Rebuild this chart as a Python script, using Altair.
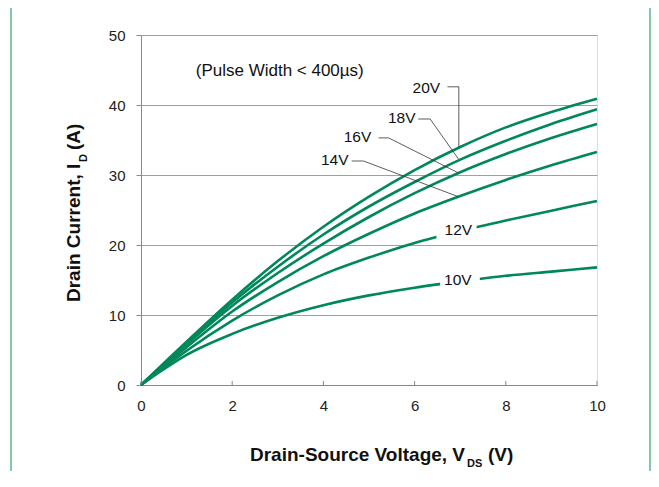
import altair as alt
import pandas as pd

# ---- data ----
VDS = [0, 0.5, 1, 2, 3, 4, 5, 6, 7, 8, 9, 10]
I_20V = [0, 3.1, 6.2, 12.2, 17.7, 22.6, 26.9, 30.7, 34.0, 36.8, 39.0, 40.9]
I_18V = [0, 3.0, 6.0, 11.8, 16.9, 21.5, 25.5, 29.0, 32.2, 34.9, 37.3, 39.4]
I_16V = [0, 2.9, 5.8, 11.3, 16.0, 20.2, 24.0, 27.4, 30.4, 33.0, 35.3, 37.3]
I_14V = [0, 2.75, 5.4, 10.5, 14.7, 18.4, 21.6, 24.5, 27.0, 29.3, 31.4, 33.3]
I_12V = [0, 2.5, 4.9, 9.2, 12.8, 15.8, 18.2, 20.3, 22.0, 23.5, 24.9, 26.3]
I_10V = [0, 2.25, 4.3, 7.3, 9.6, 11.4, 12.8, 13.9, 14.8, 15.6, 16.2, 16.8]
GATES = ["20V", "18V", "16V", "14V", "12V", "10V"]
SERIES = [I_20V, I_18V, I_16V, I_14V, I_12V, I_10V]

X_TICKS = [0, 2, 4, 6, 8, 10]
Y_TICKS = [0, 10, 20, 30, 40, 50]

# labels with leader lines (right-aligned text)
LEAD_LABELS = ["20V", "18V", "16V", "14V"]
LEAD_TEXT_X = [6.56, 6.02, 5.05, 4.55]
LEAD_TEXT_Y = [42.4, 38.2, 35.5, 32.2]
LEAD_X = [[6.72, 6.97, 6.97], [6.08, 6.34, 6.96], [5.21, 5.43, 6.96], [4.62, 4.88, 6.96]]
LEAD_Y = [[42.6, 42.6, 34.0], [38.0, 38.0, 32.3], [35.3, 35.3, 30.3], [32.0, 32.0, 26.9]]

# inline labels (line is interrupted behind them)
INLINE_LABELS = ["12V", "10V"]
INLINE_X = [6.96, 6.95]
INLINE_Y = [22.1, 14.95]
GAP_X1 = [6.48, 6.56]
GAP_X2 = [7.36, 7.43]
GAP_Y1 = [20.3, 13.3]
GAP_Y2 = [23.8, 16.6]

NOTE = "(Pulse Width < 400µs)"
NOTE_X = [1.2]
NOTE_Y = [44.9]

GREEN = "#00875a"
W, H = 456, 350

curves = pd.DataFrame(
    [{"V": v, "I": i, "gate": g} for g, s in zip(GATES, SERIES) for v, i in zip(VDS, s)]
)
leaders = pd.DataFrame(
    [{"V": x, "I": y, "lab": l, "k": k}
     for l, xs, ys in zip(LEAD_LABELS, LEAD_X, LEAD_Y)
     for k, (x, y) in enumerate(zip(xs, ys))]
)
lead_txt = pd.DataFrame({"V": LEAD_TEXT_X, "I": LEAD_TEXT_Y, "lab": LEAD_LABELS})
inl_txt = pd.DataFrame({"V": INLINE_X, "I": INLINE_Y, "lab": INLINE_LABELS})
gaps = pd.DataFrame({"V": GAP_X1, "V2": GAP_X2, "I": GAP_Y1, "I2": GAP_Y2})
note = pd.DataFrame({"V": NOTE_X, "I": NOTE_Y, "lab": [NOTE]})
ticks = pd.DataFrame({"V": X_TICKS})

LABEL_FONT = "Liberation Sans"
xscale = alt.Scale(domain=[0, 10], nice=False, zero=False)
yscale = alt.Scale(domain=[0, 50], nice=False)
xaxis = alt.Axis(values=X_TICKS, grid=False, tickSize=0, labelPadding=13, title=None,
                 labelFlush=False, domainColor="#888", labelFont=LABEL_FONT,
                 labelFontSize=15, labelColor="#222")
yaxis = alt.Axis(values=Y_TICKS, grid=True, gridColor="#a0a0a0", tickSize=5, tickColor="#888",
                 labelPadding=11, title=None, domainColor="#888", labelFlush=False,
                 labelFont=LABEL_FONT, labelFontSize=15, labelColor="#222")


def X(f="V"):
    return alt.X(f, type="quantitative", scale=xscale, axis=xaxis)


def Y(f="I"):
    return alt.Y(f, type="quantitative", scale=yscale, axis=yaxis)


lines = alt.Chart(curves).mark_line(interpolate="monotone", strokeWidth=2.6, color=GREEN).encode(
    x=X(), y=Y(), detail="gate:N")
gap_rects = alt.Chart(gaps).mark_rect(color="white").encode(
    x=X(), x2="V2", y=Y(), y2="I2")
lead_lines = alt.Chart(leaders).mark_line(color="#333", strokeWidth=0.8).encode(
    x=X(), y=Y(), detail="lab:N", order="k:Q")
lead_labels = alt.Chart(lead_txt).mark_text(
    align="right", baseline="middle", font=LABEL_FONT, fontSize=15.5, color="#111").encode(
    x=X(), y=Y(), text="lab:N")
inl_labels = alt.Chart(inl_txt).mark_text(
    align="center", baseline="middle", font=LABEL_FONT, fontSize=15.5, color="#111").encode(
    x=X(), y=Y(), text="lab:N")
note_text = alt.Chart(note).mark_text(
    align="left", baseline="middle", font=LABEL_FONT, fontSize=17, color="#111").encode(
    x=X(), y=Y(), text="lab:N")
inner_ticks = alt.Chart(ticks).mark_rule(color="#888", strokeWidth=1).encode(
    x=X(), y=alt.value(H - 4), y2=alt.value(H))

one = pd.DataFrame({"a": [0]})
BORDER = "#84c9a3"
border_left = alt.Chart(one).mark_rule(color=BORDER, strokeWidth=2).encode(
    x=alt.value(-130), y=alt.value(-28), y2=alt.value(H + 90))
border_top = alt.Chart(one).mark_rule(color=BORDER, strokeWidth=2).encode(
    x=alt.value(-131), x2=alt.value(509), y=alt.value(-28))
border_right = alt.Chart(one).mark_rule(color=BORDER, strokeWidth=2).encode(
    x=alt.value(509), y=alt.value(-28), y2=alt.value(H + 90))


def txt(s, x, y, size, angle=0, bold=True):
    kw = dict(text=s, align="left", baseline="alphabetic", font="Liberation Sans",
              fontSize=size, color="#111", fontWeight="bold" if bold else "normal")
    if angle:
        kw["angle"] = angle
    return alt.Chart(one).mark_text(**kw).encode(x=alt.value(x), y=alt.value(y))


# x title with subscript
xt1 = txt("Drain-Source Voltage, V", 109, 426, 19)
xt2 = txt("DS", 326, 432, 11)
xt3 = txt("(V)", 347, 426, 19)
# y title with subscript (rotated)
yt1 = txt("Drain Current, I", -61, 267, 19, angle=270)
yt2 = txt("D", -54, 127, 11, angle=270)
yt3 = txt("(A)", -61, 115, 19, angle=270)

chart = alt.layer(
    lines, gap_rects, lead_lines, lead_labels, inl_labels, note_text, inner_ticks,
    border_left, border_top, border_right, xt1, xt2, xt3, yt1, yt2, yt3
).properties(
    width=W, height=H,
    autosize=alt.AutoSizeParams(type="none"),
    padding={"left": 133, "top": 27, "right": 54, "bottom": 86},
).configure_view(stroke="#a0a0a0").configure(background="white")

chart.save("out.html", embed_options={"renderer": "svg", "actions": False})
